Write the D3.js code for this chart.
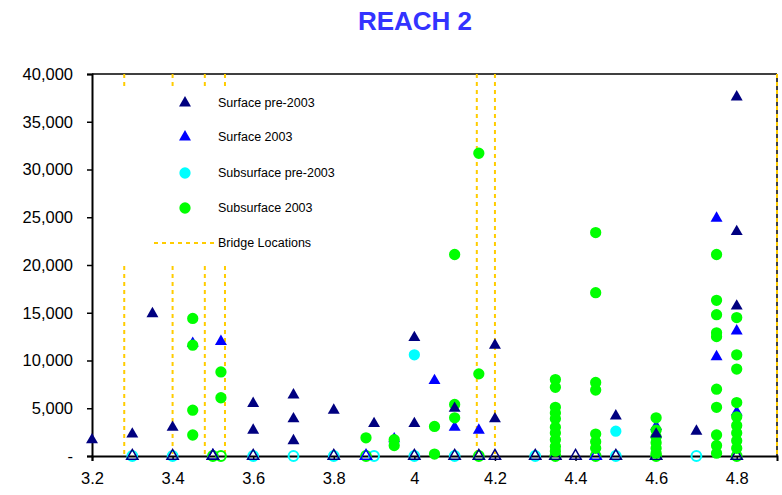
<!DOCTYPE html>
<html>
<head>
<meta charset="utf-8">
<script src="https://cdn.jsdelivr.net/npm/d3@7"></script>
<style>
  html, body { margin: 0; padding: 0; background: #fff; }
  svg { display: block; font-family: "Liberation Sans", Arial, sans-serif; }
</style>
</head>
<body>
<svg id="chart" width="782" height="495"></svg>
<script>
// ---------- DATA ----------
const title = "REACH 2";
const xTicks = [3.2, 3.4, 3.6, 3.8, 4.0, 4.2, 4.4, 4.6, 4.8];
const yTicks = [0, 5000, 10000, 15000, 20000, 25000, 30000, 35000, 40000];

// Surface pre-2003 (navy triangles)
const surfacePre = [
  [3.2, 1800], [3.3, 2400], [3.35, 15000], [3.4, 3100],
  [3.6, 5600], [3.6, 2800], [3.7, 6500], [3.7, 4000], [3.7, 1700],
  [3.8, 4900], [3.9, 3500], [4.0, 12500], [4.0, 3500], [4.1, 5100],
  [4.2, 11700], [4.2, 4000], [4.5, 4300], [4.6, 2400], [4.7, 2700],
  [4.8, 37700], [4.8, 23600], [4.8, 15800]
];
// Surface 2003 (blue triangles)
const surface2003 = [
  [3.45, 11900], [3.52, 12100], [3.95, 1900], [4.05, 8000], [4.1, 3100],
  [4.16, 2800], [4.6, 3200], [4.75, 25000], [4.75, 10500],
  [4.8, 13200], [4.8, 4700]
];
// Subsurface pre-2003 (cyan circles)
const subsurfacePre = [[4.0, 10600], [4.5, 2600]];
// Subsurface 2003 (green circles)
const subsurface2003 = [
  [3.45, 14400], [3.45, 11600], [3.45, 4800], [3.45, 2200],
  [3.52, 8800], [3.52, 6100], [3.88, 1900], [3.95, 1700], [3.95, 1100],
  [4.05, 3100], [4.05, 200], [4.1, 21100], [4.1, 5400], [4.1, 4000],
  [4.16, 31700], [4.16, 8600],
  [4.35, 8000], [4.35, 7200], [4.35, 5100], [4.35, 4500], [4.35, 3900],
  [4.35, 3000], [4.35, 2400], [4.35, 1700], [4.35, 1000], [4.35, 500],
  [4.45, 23400], [4.45, 17100], [4.45, 7700], [4.45, 6900], [4.45, 2300],
  [4.45, 1500], [4.45, 800],
  [4.6, 4000], [4.6, 2700], [4.6, 2000], [4.6, 1400], [4.6, 800], [4.6, 300],
  [4.75, 21100], [4.75, 16300], [4.75, 14800], [4.75, 12900], [4.75, 12500],
  [4.75, 7000], [4.75, 5100], [4.75, 2200], [4.75, 1100], [4.75, 300],
  [4.8, 14500], [4.8, 10600], [4.8, 9100], [4.8, 5600], [4.8, 4100],
  [4.8, 3200], [4.8, 2400], [4.8, 1600], [4.8, 800]
];
// Non-detects plotted at zero (hollow markers)
const ndSurfacePre = [3.3, 3.4, 3.5, 3.6, 3.8, 4.0, 4.1, 4.16, 4.2, 4.3, 4.35, 4.4, 4.5, 4.6, 4.8];
const ndSurface2003 = [3.5, 3.88, 4.45];
const ndSubsurfacePre = [3.3, 3.4, 3.6, 3.7, 3.8, 3.9, 4.0, 4.1, 4.3, 4.5, 4.7];
const ndSubsurface2003 = [3.5, 3.52, 3.88, 4.16, 4.35, 4.45, 4.6, 4.8];
// Bridge locations (river mile)
const bridges = [3.28, 3.4, 3.48, 3.53, 4.155, 4.2, 4.9];

const legendItems = [
  { label: "Surface pre-2003", kind: "tri", color: "#000080" },
  { label: "Surface 2003", kind: "tri", color: "#0000FF" },
  { label: "Subsurface pre-2003", kind: "circ", color: "#00FFFF" },
  { label: "Subsurface 2003", kind: "circ", color: "#00FF00" },
  { label: "Bridge Locations", kind: "line", color: "#FFCC00" }
];

// ---------- LAYOUT ----------
const svg = d3.select("#chart");
const pLeft = 92, pRight = 777, pTop = 74, pBottom = 456;
const x = d3.scaleLinear().domain([3.2, 4.9]).range([pLeft, pRight]);
const y = d3.scaleLinear().domain([0, 40000]).range([pBottom, pTop]);

const tri = d3.symbol().type(d3.symbolTriangle).size(62);
const circ = d3.symbol().type(d3.symbolCircle).size(100);
const ring = d3.symbol().type(d3.symbolCircle).size(75);
const triH = d3.symbol().type(d3.symbolTriangle).size(55);

// title
svg.append("text")
  .attr("x", 415).attr("y", 30)
  .attr("text-anchor", "middle")
  .attr("font-size", 26).attr("font-weight", "bold")
  .attr("fill", "#3333FF")
  .text(title);

// frame top & right
svg.append("line").attr("x1", pLeft).attr("x2", pRight).attr("y1", pTop).attr("y2", pTop)
  .attr("stroke", "#000").attr("stroke-width", 1.5);
svg.append("line").attr("x1", pRight).attr("x2", pRight).attr("y1", pTop).attr("y2", pBottom)
  .attr("stroke", "#000").attr("stroke-width", 1.5);

// bridge lines
svg.append("g").selectAll("line").data(bridges).join("line")
  .attr("x1", d => x(d)).attr("x2", d => x(d))
  .attr("y1", y(40000)).attr("y2", y(0))
  .attr("stroke", "#FFCC00").attr("stroke-width", 2)
  .attr("stroke-dasharray", "4,4");

// legend box (white, covers bridge lines)
const lg = svg.append("g");
lg.append("rect").attr("x", 118).attr("y", 86).attr("width", 232).attr("height", 180).attr("fill", "#fff");
const rowY = [103, 137, 173, 208, 243];
legendItems.forEach((d, i) => {
  const cy = rowY[i];
  if (d.kind === "tri") {
    lg.append("path").attr("d", tri).attr("transform", `translate(185,${cy})`).attr("fill", d.color);
  } else if (d.kind === "circ") {
    lg.append("path").attr("d", circ).attr("transform", `translate(185,${cy})`).attr("fill", d.color);
  } else {
    lg.append("line").attr("x1", 154).attr("x2", 215).attr("y1", cy).attr("y2", cy)
      .attr("stroke", d.color).attr("stroke-width", 2).attr("stroke-dasharray", "4,4");
  }
  lg.append("text").attr("x", 218).attr("y", cy + 4).attr("font-size", 12.5).attr("fill", "#000").text(d.label);
});

// axes
const yAxis = d3.axisLeft(y).tickValues(yTicks).tickSize(5).tickPadding(14)
  .tickFormat(d => d === 0 ? "-" : d3.format(",")(d));
const gy = svg.append("g").attr("transform", `translate(${pLeft},0)`).call(yAxis);
gy.select(".domain").attr("stroke", "#000").attr("stroke-width", 2);
gy.selectAll(".tick line").attr("stroke", "#000").attr("stroke-width", 1.5);
gy.selectAll(".tick text").attr("font-size", 16.5).attr("fill", "#000").attr("font-family", "Liberation Sans, Arial, sans-serif");

const xAxis = d3.axisBottom(x).tickValues(xTicks).tickSize(5).tickPadding(11)
  .tickFormat(d => d3.format("")(+d.toFixed(1)));
const gx = svg.append("g").attr("transform", `translate(0,${pBottom})`).call(xAxis);
gx.select(".domain").attr("stroke", "#000").attr("stroke-width", 2);
gx.selectAll(".tick line").attr("stroke", "#000").attr("stroke-width", 1.5);
gx.selectAll(".tick text").attr("font-size", 16.5).attr("fill", "#000").attr("font-family", "Liberation Sans, Arial, sans-serif");

// marks
const g = svg.append("g");
function tris(data, color) {
  g.append("g").selectAll("path").data(data).join("path")
    .attr("d", tri).attr("fill", color)
    .attr("transform", d => `translate(${x(d[0])},${y(d[1]) + 1})`);
}
function circs(data, color) {
  g.append("g").selectAll("path").data(data).join("path")
    .attr("d", circ).attr("fill", color)
    .attr("transform", d => `translate(${x(d[0])},${y(d[1])})`);
}
function hollowTris(data, color) {
  g.append("g").selectAll("path").data(data).join("path")
    .attr("d", triH).attr("fill", "none").attr("stroke", color).attr("stroke-width", 1.5)
    .attr("transform", d => `translate(${x(d)},${y(0)})`);
}
function rings(data, color) {
  g.append("g").selectAll("path").data(data).join("path")
    .attr("d", ring).attr("fill", "none").attr("stroke", color).attr("stroke-width", 2)
    .attr("transform", d => `translate(${x(d)},${y(0)})`);
}

rings(ndSubsurfacePre, "#00FFFF");
rings(ndSubsurface2003, "#00FF00");
hollowTris(ndSurface2003, "#0000FF");
hollowTris(ndSurfacePre, "#000080");
tris(surface2003, "#0000FF");
circs(subsurfacePre, "#00FFFF");
circs(subsurface2003, "#00FF00");
tris(surfacePre, "#000080");
</script>
</body>
</html>
